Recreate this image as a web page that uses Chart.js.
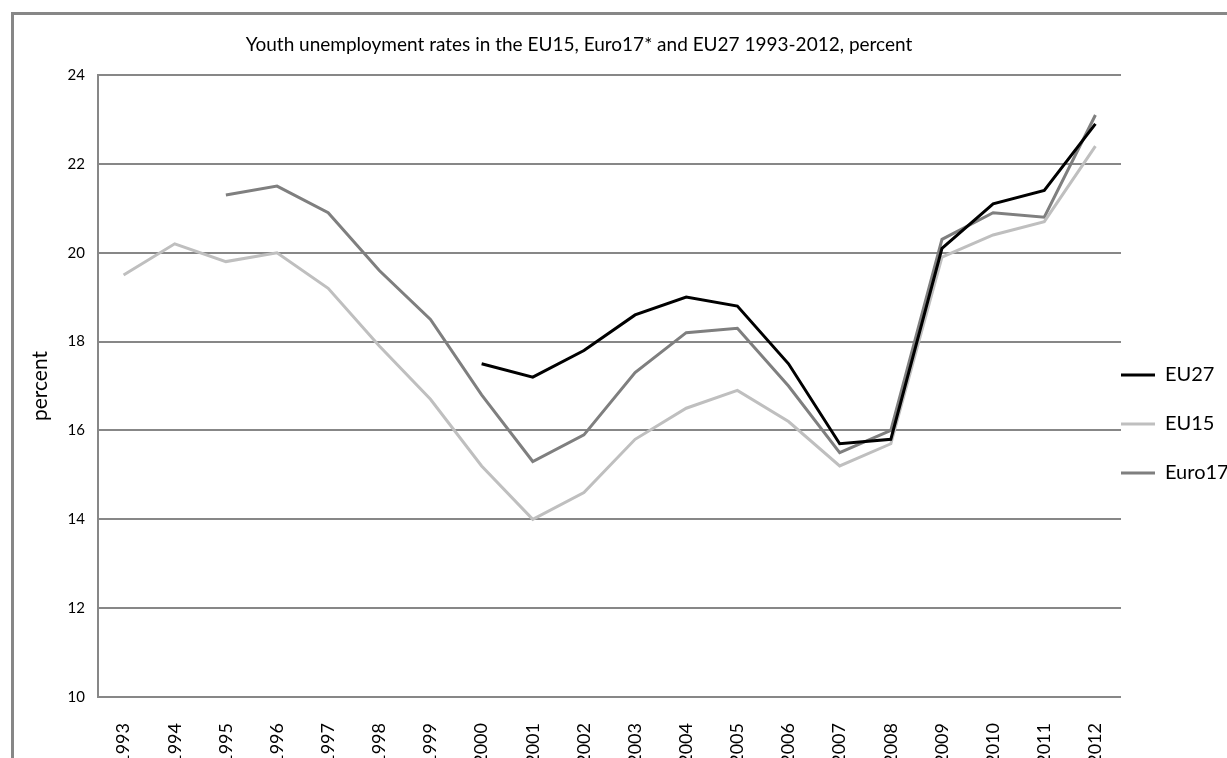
<!DOCTYPE html>
<html>
<head>
<meta charset="utf-8">
<title>Youth unemployment</title>
<script src="https://cdn.jsdelivr.net/npm/chart.js@4.4.1/dist/chart.umd.min.js"></script>
<style>
  html, body { margin: 0; padding: 0; background: #fff; overflow: hidden; }
  #frame {
    position: absolute; left: 11px; top: 12px;
    width: 1400px; height: 900px;
    border-left: 3px solid #878787; border-top: 3px solid #878787;
  }
  #chart { position: absolute; left: 0; top: 0; }
</style>
</head>
<body>
<div id="frame"></div>
<canvas id="chart" width="1227" height="758"></canvas>
<script>
const years = ['1993', '1994', '1995', '1996', '1997', '1998', '1999', '2000', '2001', '2002',
               '2003', '2004', '2005', '2006', '2007', '2008', '2009', '2010', '2011', '2012'];

const eu27 = [null, null, null, null, null, null, null, 17.5, 17.2, 17.8,
              18.6, 19.0, 18.8, 17.5, 15.7, 15.8, 20.1, 21.1, 21.4, 22.9];
const eu15 = [19.5, 20.2, 19.8, 20.0, 19.2, 17.9, 16.7, 15.2, 14.0, 14.6,
              15.8, 16.5, 16.9, 16.2, 15.2, 15.7, 19.9, 20.4, 20.7, 22.4];
const euro17 = [null, null, 21.3, 21.5, 20.9, 19.6, 18.5, 16.8, 15.3, 15.9,
                17.3, 18.2, 18.3, 17.0, 15.5, 16.0, 20.3, 20.9, 20.8, 23.1];

const yTicks = [10, 12, 14, 16, 18, 20, 22, 24];

const GRID = '#878787';
const FONT = 'Lato';

// the legend sits right against the plot and the title is centred like the original
const fixLayout = {
    id: 'fixLayout',
    afterLayout(chart) {
        const lg = chart.legend;
        lg.left -= lg.options.labels.padding;
        lg.top = 75;
        lg.bottom = 773;
        chart.titleBlock.left = 14;
        chart.titleBlock.right = 1144;
    }
};

function series(label, data, color) {
    return {
        label: label,
        data: data,
        borderColor: color,
        backgroundColor: color,
        borderWidth: 3,
        pointRadius: 0,
        pointHoverRadius: 0,
        tension: 0,
        spanGaps: false
    };
}

new Chart(document.getElementById('chart'), {
    type: 'line',
    data: {
        labels: years,
        datasets: [
            series('EU27', eu27, '#000000'),
            series('EU15', eu15, '#bfbfbf'),
            series('Euro17', euro17, '#7f7f7f')
        ]
    },
    options: {
        responsive: false,
        animation: false,
        layout: { padding: { left: 14, top: 16, right: 0, bottom: 0 } },
        plugins: {
            title: {
                display: true,
                text: 'Youth unemployment rates in the EU15, Euro17* and EU27 1993-2012, percent',
                color: '#000',
                font: { family: FONT, size: 19, weight: 'normal' },
                padding: { top: 17.6, bottom: 18.6 }
            },
            legend: {
                position: 'right',
                maxWidth: 106,
                labels: {
                    usePointStyle: true,
                    pointStyle: 'line',
                    pointStyleWidth: 34,
                    padding: 29,
                    color: '#000',
                    font: { family: FONT, size: 20 }
                }
            },
            tooltip: { enabled: false }
        },
        scales: {
            x: {
                offset: true,
                grid: { display: false },
                border: { display: false },
                ticks: {
                    autoSkip: false,
                    minRotation: 90,
                    maxRotation: 90,
                    padding: 18,
                    color: '#000',
                    font: { family: FONT, size: 18 }
                },
                afterFit(scale) { scale.height = 61; }
            },
            y: {
                min: 10,
                max: 24,
                afterBuildTicks(scale) { scale.ticks = yTicks.map(v => ({ value: v })); },
                grid: { color: GRID, lineWidth: 2, drawTicks: false },
                border: { display: true, color: GRID, width: 2 },
                ticks: {
                    padding: 13,
                    color: '#000',
                    font: { family: FONT, size: 15 }
                },
                title: {
                    display: true,
                    text: 'percent',
                    color: '#000',
                    font: { family: FONT, size: 21 },
                    padding: { top: 14, bottom: 0 }
                },
                afterFit(scale) { scale.width = 84; }
            }
        }
    },
    plugins: [fixLayout]
});
</script>
</body>
</html>
